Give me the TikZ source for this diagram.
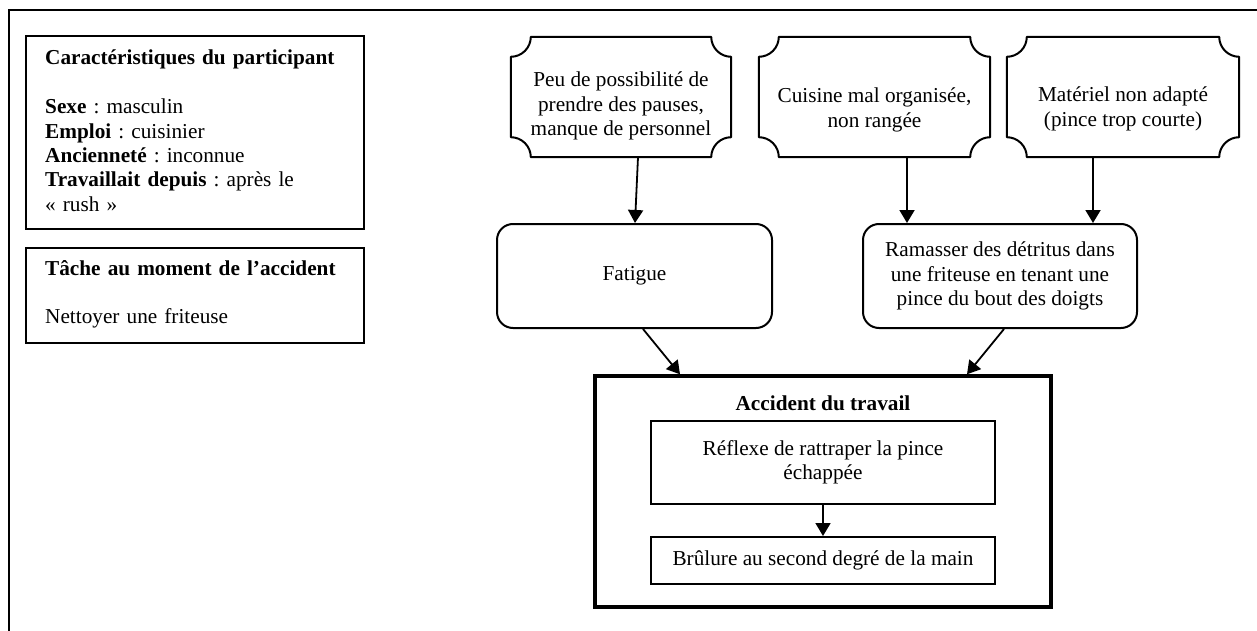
\documentclass[tikz,border=0pt]{standalone}
\usepackage{fontspec}
\setmainfont{Liberation Serif}
\frenchspacing
\usetikzlibrary{arrows.meta}

% Plaque outline (concave quarter-circle corners, radius 20pt) around a node
\newcommand\drawplaque[1]{%
  \draw[plaqueline]
    ([yshift=-20pt]#1.north west) .. controls +(11pt,0pt) and +(0pt,-11pt) .. ([xshift=20pt]#1.north west)
    -- ([xshift=-20pt]#1.north east) .. controls +(0pt,-11pt) and +(-11pt,0pt) .. ([yshift=-20pt]#1.north east)
    -- ([yshift=20pt]#1.south east) .. controls +(-11pt,0pt) and +(0pt,11pt) .. ([xshift=-20pt]#1.south east)
    -- ([xshift=20pt]#1.south west) .. controls +(0pt,11pt) and +(11pt,0pt) .. ([yshift=20pt]#1.south west)
    -- cycle;}

\tikzset{
  x=1pt, y=-1pt,
  every node/.style={font=\fontsize{21.25}{24.4}\selectfont},
  frame/.style={line width=2pt},
  box/.style={draw, line width=2pt, inner sep=0pt, align=center},
  roundbox/.style={box, rounded corners=16pt},
  plaquebox/.style={inner sep=0pt},
  plaquetext/.style={inner sep=0pt, align=center},
  plaqueline/.style={line width=2pt, line join=round},
  accbox/.style={draw, line width=3.4pt, inner sep=0pt},
  infotext/.style={anchor=base west, align=left, inner sep=0pt, text width=310pt},
  arr/.style={line width=1.8pt, -{Triangle[length=13pt,width=15pt]}},
}

\begin{document}
\begin{tikzpicture}
\useasboundingbox (0,0) rectangle (1257,631);
\fill[white] (0,0) rectangle (1257,631);

% page frame (top and left rules)
\draw[frame] (1257,10) -- (9,10) -- (9,631);

% participant information
\node[box, minimum width=338pt, minimum height=193pt, anchor=north west] (profile) at (25,35) {};
\node[infotext] (profiletxt) at (45,65)
  {\textbf{Caractéristiques du participant}\\[24.4pt]
   \textbf{Sexe} : masculin\\
   \textbf{Emploi} : cuisinier\\
   \textbf{Ancienneté} : inconnue\\
   \textbf{Travaillait depuis} : après le\\
   « rush »};

\node[box, minimum width=338pt, minimum height=95pt, anchor=north west] (task) at (25,247) {};
\node[infotext] (tasktxt) at (45,275)
  {\textbf{Tâche au moment de l’accident}\\[24.4pt]
   Nettoyer une friteuse};

% contributing factors
\node[plaquebox, minimum width=220pt, minimum height=120pt] (pauses) at (621,97) {};
\drawplaque{pauses}
\node[plaquetext] (pausestxt) at ([yshift=-9pt]pauses.center)
  {Peu de possibilité de\\prendre des pauses,\\manque de personnel};
\node[plaquebox, minimum width=231pt, minimum height=120pt] (kitchen) at (874.5,97) {};
\drawplaque{kitchen}
\node[plaquetext] (kitchentxt) at ([yshift=-13pt]kitchen.center)
  {Cuisine mal organisée,\\non rangée};
\node[plaquebox, minimum width=232pt, minimum height=120pt] (tool) at (1123,97) {};
\drawplaque{tool}
\node[plaquetext] (tooltxt) at ([yshift=-12pt]tool.center)
  {Matériel non adapté\\(pince trop courte)};

% intermediate states
\node[roundbox, minimum width=275pt, minimum height=104pt] (fatigue) at (634.5,276) {Fatigue};
\node[roundbox, minimum width=274pt, minimum height=104pt] (pickup) at (1000,276)
  {Ramasser des détritus dans\\une friteuse en tenant une\\pince du bout des doigts};

% the accident
\node[accbox, minimum width=456pt, minimum height=231pt] (accident) at (823,491.5) {};
\node[anchor=base, inner sep=0pt] (acctitle) at (823,410) {\textbf{Accident du travail}};
\node[box, minimum width=344pt, minimum height=83pt] (reflex) at (823,462.5)
  {Réflexe de rattraper la pince\\échappée};
\node[box, minimum width=344pt, minimum height=47pt] (burn) at (823,560.5)
  {\raisebox{-2pt}{Brûlure au second degré de la main}};

% connectors
\draw[arr] ([xshift=17pt]pauses.south) -- ([xshift=0.5pt]fatigue.north);
\draw[arr] ([xshift=32.5pt]kitchen.south) -- ([xshift=-93pt]pickup.north);
\draw[arr] ([xshift=-30pt]tool.south) -- ([xshift=93pt]pickup.north);
\draw[arr] ([xshift=8.5pt]fatigue.south) -- ([xshift=-143pt]accident.north);
\draw[arr] ([xshift=4pt]pickup.south) -- ([xshift=144pt]accident.north);
\draw[arr] (reflex.south) -- (burn.north);
\end{tikzpicture}
\end{document}
